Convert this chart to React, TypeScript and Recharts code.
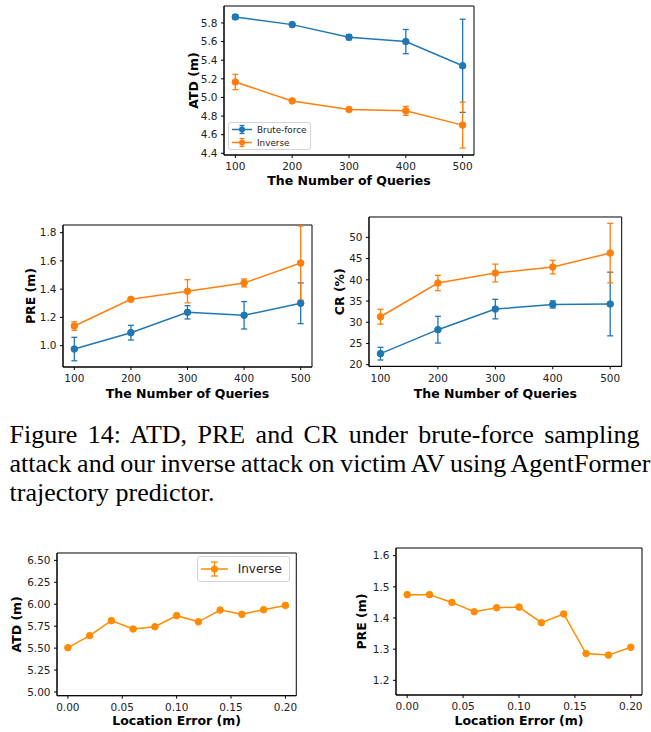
import { LineChart, Line, XAxis, YAxis, ErrorBar, ReferenceArea } from 'recharts'

const BLUE = '#1f77b4'
const ORANGE = '#ff7f0e'
const DARK_ORANGE = '#ff8c00'
const FONT = '"DejaVu Sans", sans-serif'

// Figure 14: brute-force vs inverse attack, by number of queries
const queries = [100, 200, 300, 400, 500]
const atdBrute = [5.864, 5.782, 5.647, 5.6, 5.34]
const atdBruteErr = [0.025, 0.01, 0.028, 0.13, 0.5]
const atdInverse = [5.166, 4.963, 4.87, 4.856, 4.703]
const atdInverseErr = [0.082, 0.01, 0.015, 0.048, 0.247]
const preBrute = [0.976, 1.092, 1.236, 1.215, 1.3]
const preBruteErr = [0.083, 0.052, 0.047, 0.097, 0.144]
const preInverse = [1.139, 1.328, 1.385, 1.444, 1.585]
const preInverseErr = [0.03, 0.01, 0.082, 0.028, 0.262]
const crBrute = [22.6, 28.25, 33.1, 34.2, 34.3]
const crBruteErr = [1.5, 3.15, 2.3, 0.85, 7.5]
const crInverse = [31.3, 39.25, 41.6, 43.0, 46.3]
const crInverseErr = [1.75, 1.8, 2.1, 1.6, 7.0]

// location error sweep (inverse attack only)
const locErrors = [0, 0.02, 0.04, 0.06, 0.08, 0.1, 0.12, 0.14, 0.16, 0.18, 0.2]
const locAtd = [5.505, 5.642, 5.813, 5.718, 5.744, 5.87, 5.8, 5.934, 5.885, 5.938, 5.987]
const locPre = [1.475, 1.475, 1.45, 1.42, 1.433, 1.435, 1.385, 1.413, 1.286, 1.281, 1.306]

// ticks
const queryTicks = [100, 200, 300, 400, 500]
const atdTicks = [4.4, 4.6, 4.8, 5.0, 5.2, 5.4, 5.6, 5.8]
const preTicks = [1.0, 1.2, 1.4, 1.6, 1.8]
const crTicks = [20, 25, 30, 35, 40, 45, 50]
const locTicks = [0, 0.05, 0.1, 0.15, 0.2]
const locAtdTicks = [5.0, 5.25, 5.5, 5.75, 6.0, 6.25, 6.5]
const locPreTicks = [1.2, 1.3, 1.4, 1.5, 1.6]

const queryData = queries.map((q, i) => ({
  q,
  atdB: atdBrute[i], atdBE: atdBruteErr[i],
  atdI: atdInverse[i], atdIE: atdInverseErr[i],
  preB: preBrute[i], preBE: preBruteErr[i],
  preI: preInverse[i], preIE: preInverseErr[i],
  crB: crBrute[i], crBE: crBruteErr[i],
  crI: crInverse[i], crIE: crInverseErr[i],
}))
const locData = locErrors.map((e, i) => ({ e, atd: locAtd[i], pre: locPre[i] }))

const PAD_L = 70, PAD_T = 10, PAD_R = 8, PAD_B = 45

type Series = { key: string; errKey?: string; color: string }

interface PanelProps {
  plot: [number, number, number, number]
  data: any[]
  xKey: string
  xDomain: [number, number]
  yDomain: [number, number]
  xTicks: number[]
  yTicks: number[]
  xFmt: (v: number) => string
  yFmt: (v: number) => string
  xTitle: string
  yTitle: string
  xTitleY: number
  yTitleX: number
  series: Series[]
}

function Panel(p: PanelProps) {
  const [x0, y0, x1, y1] = p.plot
  const left = x0 - PAD_L
  const top = y0 - PAD_T
  const width = x1 - x0 + PAD_L + PAD_R
  const height = y1 - y0 + PAD_T + PAD_B
  const tick = { fontSize: 10.5, fill: '#222', fontFamily: FONT }
  const title = { fontSize: 12.5, fontWeight: 700, fill: '#000', fontFamily: FONT }
  return (
    <div style={{ position: 'absolute', left, top, width, height }}>
      <LineChart width={width} height={height} data={p.data} margin={{ top: PAD_T, right: PAD_R, left: 0, bottom: 0 }}>
        <XAxis
          dataKey={p.xKey} type="number" domain={p.xDomain} ticks={p.xTicks} interval={0}
          tickFormatter={p.xFmt} allowDataOverflow height={PAD_B} tick={tick}
          tickSize={3} tickMargin={5} stroke="#000"
          label={() => (
            <text x={(x0 + x1) / 2 - left} y={p.xTitleY - top} textAnchor="middle" style={title}>{p.xTitle}</text>
          )}
        />
        <YAxis
          type="number" domain={p.yDomain} ticks={p.yTicks} interval={0}
          tickFormatter={p.yFmt} allowDataOverflow width={PAD_L} tick={tick}
          tickSize={3} tickMargin={3.5} stroke="#000"
          label={() => (
            <text transform={`translate(${p.yTitleX - left},${(y0 + y1) / 2 - top}) rotate(-90)`} textAnchor="middle" style={title}>{p.yTitle}</text>
          )}
        />
        <ReferenceArea x1={p.xDomain[0]} x2={p.xDomain[1]} y1={p.yDomain[0]} y2={p.yDomain[1]} fill="none" stroke="#000" strokeWidth={1} />
        {p.series.map(s => (
          <Line
            key={s.key} type="linear" dataKey={s.key} stroke={s.color} strokeWidth={1.5}
            dot={{ r: 3.3, fill: s.color, stroke: s.color, strokeWidth: 1 }}
            activeDot={false} isAnimationActive={false}
          >
            {s.errKey && <ErrorBar dataKey={s.errKey} width={3} stroke={s.color} strokeWidth={1.3} direction="y" />}
          </Line>
        ))}
      </LineChart>
    </div>
  )
}

function Mark({ color, w, h, cap, bar, r }: { color: string; w: number; h: number; cap: number; bar: number; r: number }) {
  const cx = w / 2, cy = h / 2
  return (
    <svg width={w} height={h} style={{ display: 'block' }}>
      <line x1={0} y1={cy} x2={w} y2={cy} stroke={color} strokeWidth={1.5} />
      <line x1={cx} y1={cy - bar} x2={cx} y2={cy + bar} stroke={color} strokeWidth={1.3} />
      <line x1={cx - cap} y1={cy - bar} x2={cx + cap} y2={cy - bar} stroke={color} strokeWidth={1.3} />
      <line x1={cx - cap} y1={cy + bar} x2={cx + cap} y2={cy + bar} stroke={color} strokeWidth={1.3} />
      <circle cx={cx} cy={cy} r={r} fill={color} />
    </svg>
  )
}

const legendBox = {
  position: 'absolute' as const,
  border: '1px solid #d4d4d4',
  borderRadius: 3,
  background: 'rgba(255,255,255,0.8)',
  boxSizing: 'border-box' as const,
  fontFamily: FONT,
  color: '#222',
}

const fmt = (d: number) => (v: number) => v.toFixed(d)

const captionLine = {
  position: 'absolute' as const,
  left: 9.5,
  fontFamily: '"Liberation Serif", "Times New Roman", serif',
  fontSize: 26,
  lineHeight: '29px',
  whiteSpace: 'nowrap' as const,
  color: '#000',
}

export default function App() {
  return (
    <div style={{ position: 'absolute', left: 0, top: 0, width: 651, height: 732, background: '#fff', overflow: 'hidden' }}>
      <Panel
        plot={[223.5, 6, 473.5, 155]} data={queryData} xKey="q"
        xDomain={[80, 520]} yDomain={[4.382, 5.982]} xTicks={queryTicks} yTicks={atdTicks}
        xFmt={fmt(0)} yFmt={fmt(1)} xTitle="The Number of Queries" yTitle="ATD (m)"
        xTitleY={185} yTitleX={197}
        series={[{ key: 'atdB', errKey: 'atdBE', color: BLUE }, { key: 'atdI', errKey: 'atdIE', color: ORANGE }]}
      />
      <div style={{ ...legendBox, left: 228, top: 122, width: 83, height: 28, fontSize: 8.8 }}>
        {[{ name: 'Brute-force', color: BLUE }, { name: 'Inverse', color: ORANGE }].map(it => (
          <div key={it.name} style={{ display: 'flex', alignItems: 'center', height: 13, paddingLeft: 3 }}>
            <Mark color={it.color} w={20} h={13} cap={2.5} bar={4} r={3} />
            <span style={{ marginLeft: 5 }}>{it.name}</span>
          </div>
        ))}
      </div>

      <Panel
        plot={[63, 225, 312, 367]} data={queryData} xKey="q"
        xDomain={[80, 520]} yDomain={[0.849, 1.854]} xTicks={queryTicks} yTicks={preTicks}
        xFmt={fmt(0)} yFmt={fmt(1)} xTitle="The Number of Queries" yTitle="PRE (m)"
        xTitleY={398.3} yTitleX={35}
        series={[{ key: 'preB', errKey: 'preBE', color: BLUE }, { key: 'preI', errKey: 'preIE', color: ORANGE }]}
      />
      <Panel
        plot={[369.3, 217.3, 622, 366.7]} data={queryData} xKey="q"
        xDomain={[80, 520]} yDomain={[19.6, 54.8]} xTicks={queryTicks} yTicks={crTicks}
        xFmt={fmt(0)} yFmt={fmt(0)} xTitle="The Number of Queries" yTitle="CR (%)"
        xTitleY={398.3} yTitleX={344}
        series={[{ key: 'crB', errKey: 'crBE', color: BLUE }, { key: 'crI', errKey: 'crIE', color: ORANGE }]}
      />

      <div style={{ ...captionLine, top: 420, width: 630, textAlign: 'justify', textAlignLast: 'justify' }}>
        Figure 14: ATD, PRE and CR under brute-force sampling
      </div>
      <div style={{ ...captionLine, top: 449, width: 641, wordSpacing: -1.8, textAlign: 'justify', textAlignLast: 'justify' }}>
        attack and our inverse attack on victim AV using AgentFormer
      </div>
      <div style={{ ...captionLine, top: 478 }}>trajectory predictor.</div>

      <Panel
        plot={[56.7, 553.3, 296, 696]} data={locData} xKey="e"
        xDomain={[-0.01, 0.21]} yDomain={[4.958, 6.584]} xTicks={locTicks} yTicks={locAtdTicks}
        xFmt={fmt(2)} yFmt={fmt(2)} xTitle="Location Error (m)" yTitle="ATD (m)"
        xTitleY={725.7} yTitleX={20.7}
        series={[{ key: 'atd', color: DARK_ORANGE }]}
      />
      <div style={{ ...legendBox, left: 196.7, top: 556, width: 93.3, height: 25.7, fontSize: 12 }}>
        <div style={{ display: 'flex', alignItems: 'center', height: 24, paddingLeft: 3 }}>
          <Mark color={DARK_ORANGE} w={27} h={20} cap={3.5} bar={7} r={3.5} />
          <span style={{ marginLeft: 10 }}>Inverse</span>
        </div>
      </div>
      <Panel
        plot={[395.7, 548.3, 641.7, 695.3]} data={locData} xKey="e"
        xDomain={[-0.01, 0.21]} yDomain={[1.153, 1.6246]} xTicks={locTicks} yTicks={locPreTicks}
        xFmt={fmt(2)} yFmt={fmt(1)} xTitle="Location Error (m)" yTitle="PRE (m)"
        xTitleY={725.7} yTitleX={366}
        series={[{ key: 'pre', color: DARK_ORANGE }]}
      />
    </div>
  )
}
